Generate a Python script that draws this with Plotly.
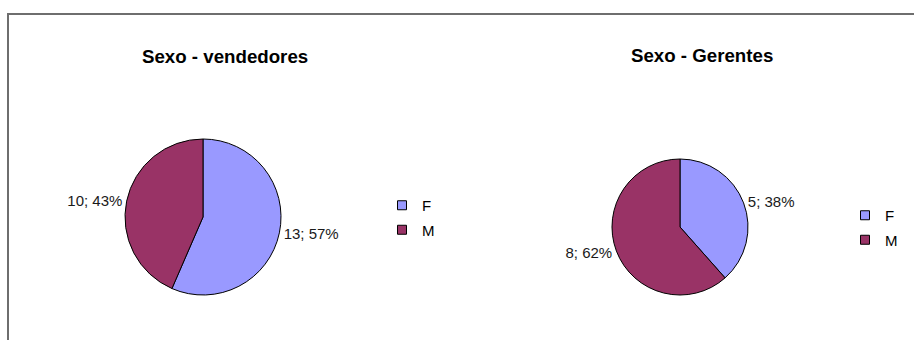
import plotly.graph_objects as go

labels = ["F", "M"]
vendedores = [13, 10]
gerentes = [5, 8]
titles = ["Sexo - vendedores", "Sexo - Gerentes"]
colors = ["#9999FF", "#993366"]

W, H = 914, 340
FONT = "Liberation Sans, Arial"

fig = go.Figure()
common = dict(
    labels=labels, sort=False, direction="clockwise", rotation=0,
    marker=dict(colors=colors, line=dict(color="#000000", width=1)),
    textposition="outside", texttemplate="%{value}; %{percent:.0%}",
    textfont=dict(family=FONT, size=15, color="#1a1a1a"),
    hoverinfo="label+value+percent", showlegend=False,
)
fig.add_trace(go.Pie(values=vendedores, name=titles[0],
                     domain=dict(x=[125 / W, 281 / W], y=[1 - 295 / H, 1 - 139 / H]),
                     **common))
fig.add_trace(go.Pie(values=gerentes, name=titles[1],
                     domain=dict(x=[612 / W, 748 / W], y=[1 - 295 / H, 1 - 159 / H]),
                     **common))

# legend entries (one legend per chart)
for leg in ["legend", "legend2"]:
    for lab, col in zip(labels, colors):
        fig.add_trace(go.Scatter(
            x=[None], y=[None], mode="markers", name=lab, legend=leg,
            legendgroup=leg + lab, hoverinfo="skip",
            marker=dict(symbol="square", size=9, color=col,
                        line=dict(color="#000000", width=1)),
        ))

legfont = dict(family=FONT, size=15, color="#000000")
fig.update_layout(
    width=W, height=H, margin=dict(l=0, r=0, t=0, b=0),
    paper_bgcolor="white", plot_bgcolor="white",
    xaxis=dict(visible=False), yaxis=dict(visible=False),
    legend=dict(x=382 / W, y=1 - 189 / H, xanchor="left", yanchor="top",
                font=legfont, bgcolor="rgba(0,0,0,0)",
                traceorder="grouped", tracegroupgap=2),
    legend2=dict(x=845 / W, y=1 - 199 / H, xanchor="left", yanchor="top",
                 font=legfont, bgcolor="rgba(0,0,0,0)",
                 traceorder="grouped", tracegroupgap=2),
    annotations=[
        dict(text="<b>" + titles[0] + "</b>", x=225 / W, y=1 - 57 / H, xref="paper", yref="paper",
             xanchor="center", yanchor="middle", showarrow=False,
             font=dict(family=FONT, size=18.7, color="#000000")),
        dict(text="<b>" + titles[1] + "</b>", x=702 / W, y=1 - 56 / H, xref="paper", yref="paper",
             xanchor="center", yanchor="middle", showarrow=False,
             font=dict(family=FONT, size=18.7, color="#000000")),
    ],
    shapes=[dict(type="rect", xref="paper", yref="paper", x0=8 / W, x1=1.05, y0=-0.1, y1=1 - 14 / H,
                 line=dict(color="#6e6e6e", width=2), fillcolor="rgba(0,0,0,0)", layer="below")],
)

fig.write_html("out.html")
